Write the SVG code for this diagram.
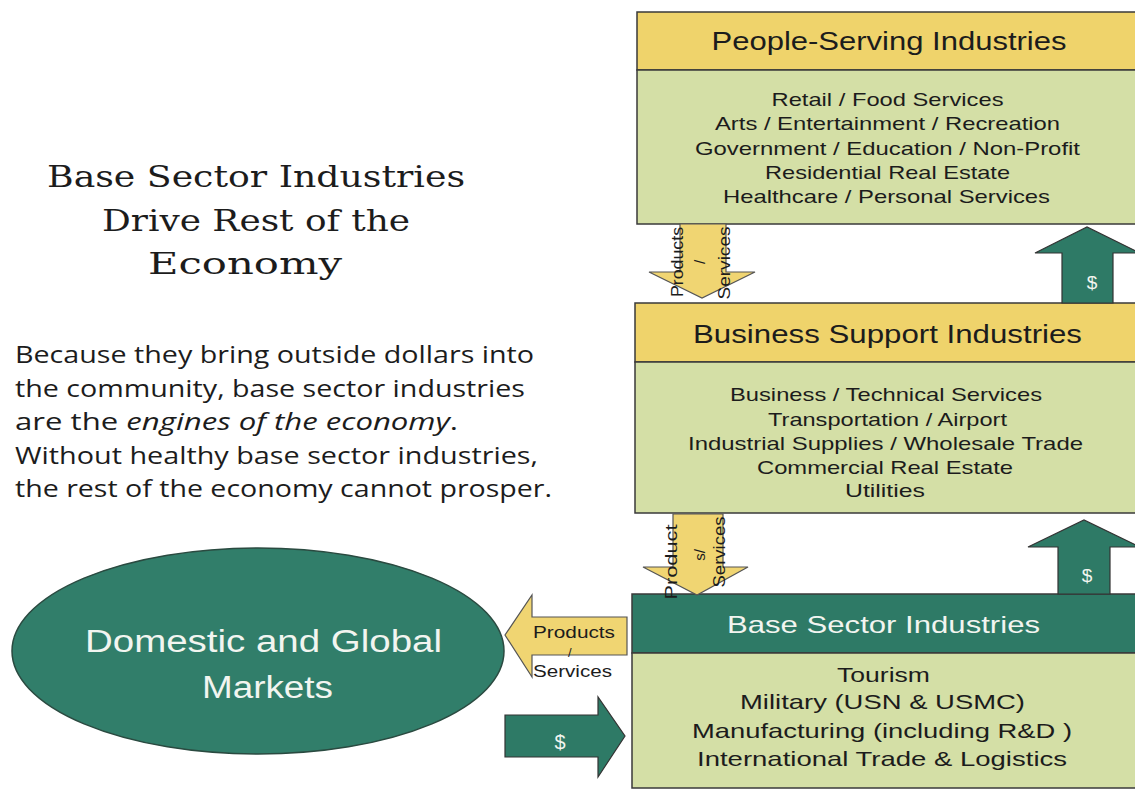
<svg xmlns="http://www.w3.org/2000/svg" width="1135" height="790" viewBox="0 0 1135 790">
<style>
.hdrY{fill:#EFD36B;stroke:#3a3a3a;stroke-width:1.5}
.body{fill:#D4DFA6;stroke:#3a3a3a;stroke-width:1.5}
.hdrG{fill:#2E7A66;stroke:#3a3a3a;stroke-width:1.5}
.ya{fill:#F0D572;stroke:#555;stroke-width:1.2}
.ga{fill:#2E7A66;stroke:#333;stroke-width:1.2}
.s{font-family:"Liberation Sans",Arial,sans-serif;fill:#1c1c1c}
.w{font-family:"Liberation Sans",Arial,sans-serif;fill:#F2F5F0}
.m{text-anchor:middle}
.serif{font-family:"DejaVu Serif","Liberation Serif",serif;fill:#1c1c1c;font-size:30px;text-anchor:middle}
.para{font-family:"Open Sans","Liberation Sans",sans-serif;fill:#1c1c1c;font-size:24px}
</style>
<rect width="1135" height="790" fill="#ffffff"/>

<g id="title">
<text class="serif" x="256" y="187" textLength="418" lengthAdjust="spacingAndGlyphs">Base Sector Industries</text>
<text class="serif" x="256" y="231" textLength="308" lengthAdjust="spacingAndGlyphs">Drive Rest of the</text>
<text class="serif" x="245" y="274" textLength="194" lengthAdjust="spacingAndGlyphs">Economy</text>
</g>

<g id="paragraph">
<text class="para" x="15" y="363" textLength="519" lengthAdjust="spacingAndGlyphs">Because they bring outside dollars into</text>
<text class="para" x="15" y="397" textLength="510" lengthAdjust="spacingAndGlyphs">the community, base sector industries</text>
<text class="para" x="15" y="430" textLength="443" lengthAdjust="spacingAndGlyphs">are the <tspan font-style="italic">engines of the economy</tspan>.</text>
<text class="para" x="15" y="464" textLength="523" lengthAdjust="spacingAndGlyphs">Without healthy base sector industries,</text>
<text class="para" x="15" y="497" textLength="537" lengthAdjust="spacingAndGlyphs">the rest of the economy cannot prosper.</text>
</g>

<g id="people-serving">
<rect class="hdrY" x="637" y="12" width="510" height="58"/>
<rect class="body" x="637" y="70" width="510" height="154"/>
<text class="s m" x="889" y="50" font-size="25" textLength="355" lengthAdjust="spacingAndGlyphs">People-Serving Industries</text>
<text class="s m" x="887.5" y="106" font-size="19" textLength="232" lengthAdjust="spacingAndGlyphs">Retail / Food Services</text>
<text class="s m" x="887.5" y="130" font-size="19" textLength="345" lengthAdjust="spacingAndGlyphs">Arts / Entertainment / Recreation</text>
<text class="s m" x="887.5" y="155" font-size="19" textLength="385" lengthAdjust="spacingAndGlyphs">Government / Education / Non-Profit</text>
<text class="s m" x="887.5" y="179" font-size="19" textLength="245" lengthAdjust="spacingAndGlyphs">Residential Real Estate</text>
<text class="s m" x="886.5" y="203" font-size="19" textLength="327" lengthAdjust="spacingAndGlyphs">Healthcare / Personal Services</text>
</g>

<g id="business-support">
<rect class="hdrY" x="635" y="303" width="512" height="59"/>
<rect class="body" x="635" y="362" width="512" height="151"/>
<text class="s m" x="887.5" y="343" font-size="26" textLength="389" lengthAdjust="spacingAndGlyphs">Business Support Industries</text>
<text class="s m" x="886" y="401" font-size="19" textLength="312" lengthAdjust="spacingAndGlyphs">Business / Technical Services</text>
<text class="s m" x="887.5" y="426" font-size="19" textLength="239" lengthAdjust="spacingAndGlyphs">Transportation / Airport</text>
<text class="s m" x="885.5" y="450" font-size="19" textLength="395" lengthAdjust="spacingAndGlyphs">Industrial Supplies / Wholesale Trade</text>
<text class="s m" x="885" y="474" font-size="19" textLength="256" lengthAdjust="spacingAndGlyphs">Commercial Real Estate</text>
<text class="s m" x="885" y="497" font-size="19" textLength="80" lengthAdjust="spacingAndGlyphs">Utilities</text>
</g>

<g id="base-sector">
<rect class="hdrG" x="632" y="594" width="515" height="59"/>
<rect class="body" x="632" y="653" width="515" height="135"/>
<text class="w m" x="883.5" y="633" font-size="24" textLength="313" lengthAdjust="spacingAndGlyphs">Base Sector Industries</text>
<text class="s m" x="883.5" y="682" font-size="21" textLength="93" lengthAdjust="spacingAndGlyphs">Tourism</text>
<text class="s m" x="882.5" y="709" font-size="21" textLength="285" lengthAdjust="spacingAndGlyphs">Military (USN &amp; USMC)</text>
<text class="s m" x="882" y="738" font-size="21" textLength="380" lengthAdjust="spacingAndGlyphs">Manufacturing (including R&amp;D )</text>
<text class="s m" x="882" y="766" font-size="21" textLength="370" lengthAdjust="spacingAndGlyphs">International Trade &amp; Logistics</text>
</g>

<g id="markets">
<ellipse cx="258" cy="651" rx="246" ry="103" fill="#317E6A" stroke="#2a4a40" stroke-width="1.5"/>
<text class="w m" x="263.5" y="652" font-size="31" textLength="357" lengthAdjust="spacingAndGlyphs">Domestic and Global</text>
<text class="w m" x="267.5" y="698" font-size="31" textLength="131" lengthAdjust="spacingAndGlyphs">Markets</text>
</g>

<g id="connectors">
<!-- Products/Services: People-Serving -> Business Support -->
<polygon class="ya" points="680,224 726,224 726,272 755,272 702,298 649,272 680,272"/>
<text class="s m" transform="translate(683,262) rotate(-90)" font-size="16" textLength="70" lengthAdjust="spacingAndGlyphs">Products</text>
<text class="s m" transform="translate(705,262) rotate(-90)" font-size="15">/</text>
<text class="s m" transform="translate(730,263) rotate(-90)" font-size="16" textLength="73" lengthAdjust="spacingAndGlyphs">Services</text>

<!-- $ : Business Support -> People-Serving -->
<polygon class="ga" points="1062,303 1113,303 1113,253 1140,253 1087,227 1035,253 1062,253"/>
<text class="w m" x="1092" y="289" font-size="19">$</text>

<!-- Products/Services: Business Support -> Base Sector -->
<polygon class="ya" points="673,514 723,514 723,567 748,567 697,595 643,567 673,567"/>
<text class="s m" transform="translate(677,562) rotate(-90)" font-size="16" textLength="75" lengthAdjust="spacingAndGlyphs">Product</text>
<text class="s m" transform="translate(705,555) rotate(-90)" font-size="15">s/</text>
<text class="s m" transform="translate(725,552) rotate(-90)" font-size="16" textLength="71" lengthAdjust="spacingAndGlyphs">Services</text>

<!-- $ : Base Sector -> Business Support -->
<polygon class="ga" points="1058,594 1110,594 1110,547 1140,547 1084,520 1028,547 1058,547"/>
<text class="w m" x="1087" y="582" font-size="19">$</text>

<!-- Products/Services: Base Sector -> Markets -->
<polygon class="ya" points="627,617 627,655 532,655 532,677 505,635 532,595 532,617"/>
<text class="s" x="533" y="638" font-size="16" textLength="82" lengthAdjust="spacingAndGlyphs">Products</text>
<text class="s" x="568" y="657" font-size="13">/</text>
<text class="s" x="533" y="677" font-size="16" textLength="79" lengthAdjust="spacingAndGlyphs">Services</text>

<!-- $ : Markets -> Base Sector -->
<polygon class="ga" points="505,715 598,715 598,697 625,736 598,777 598,757 505,757"/>
<text class="w m" x="560" y="749" font-size="20">$</text>
</g>
</svg>
